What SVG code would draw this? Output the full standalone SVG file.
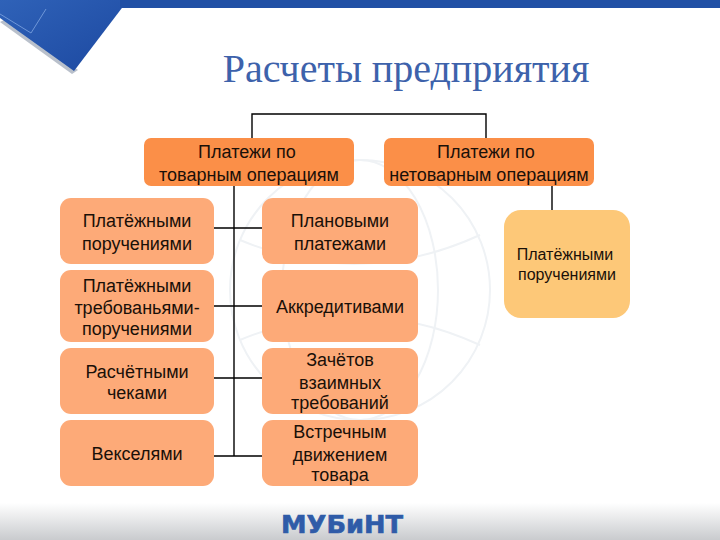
<svg xmlns="http://www.w3.org/2000/svg" width="720" height="540" viewBox="0 0 720 540">
<style>
text{font-family:"Liberation Sans",Arial,sans-serif;font-size:18px;fill:#1a1008;text-anchor:middle}
.c{fill:none;stroke:#000;stroke-width:1.4}
.g{fill:none;stroke:#eff2f5;stroke-width:2}
.h{fill:#fb8f48}
.s{fill:#fdaa78}
</style>
<defs>
<linearGradient id="foot" x1="0" y1="0" x2="0" y2="1"><stop offset="0" stop-color="#fff"/><stop offset="1" stop-color="#c9cbce"/></linearGradient>
<linearGradient id="blue" x1="0" y1="0" x2="1" y2="1"><stop offset="0" stop-color="#2f62b8"/><stop offset="1" stop-color="#1c48a0"/></linearGradient>
</defs>
<rect width="720" height="540" fill="#fff"/>
<rect y="503" width="720" height="37" fill="url(#foot)"/>
<g id="decor">
<polygon points="0,22 72,74 78,70 8,18" fill="#b9c0cb"/>
<polygon points="0,0 128,0 74,71 0,18" fill="url(#blue)"/>
<rect x="120" width="600" height="8" fill="#2150a5"/>
<path d="M0,14 L31,33 L46,9" fill="none" stroke="#6f97d8" stroke-width="1"/>
<ellipse class="g" cx="360" cy="290" rx="130" ry="130"/>
<ellipse class="g" cx="360" cy="290" rx="78" ry="130"/>
<path class="g" d="M240,240 Q360,290 480,235"/>
<path class="g" d="M240,340 Q360,290 480,345"/>
</g>
<text x="406" y="82" style="font-family:'Liberation Serif',serif;font-size:40px;fill:#3d62ab">Расчеты предприятия</text>
<g id="connectors">
<path class="c" d="M252,138V114H486V138"/>
<path class="c" d="M234,186V456"/>
<path class="c" d="M214,228H262M214,306H262M214,378H262M214,456H262"/>
<path class="c" d="M552,186V210"/>
</g>
<g id="n1"><rect class="h" x="144" y="138" width="210" height="48" rx="7"/><text x="247" y="158">Платежи по</text><text x="249" y="181">товарным операциям</text></g>
<g id="n2"><rect class="h" x="384" y="138" width="210" height="48" rx="7"/><text x="486" y="158">Платежи по</text><text x="489" y="181">нетоварным операциям</text></g>
<g id="n3"><rect class="s" x="60" y="198" width="154" height="66" rx="11"/><text x="137" y="227">Платёжными</text><text x="137" y="250">поручениями</text></g>
<g id="n4"><rect class="s" x="60" y="270" width="154" height="72" rx="11"/><text x="137" y="292">Платёжными</text><text x="137" y="314">требованьями-</text><text x="137" y="335">поручениями</text></g>
<g id="n5"><rect class="s" x="60" y="348" width="154" height="66" rx="11"/><text x="137" y="378">Расчётными</text><text x="137" y="399">чеками</text></g>
<g id="n6"><rect class="s" x="60" y="420" width="154" height="66" rx="11"/><text x="137" y="460">Векселями</text></g>
<g id="n7"><rect class="s" x="262" y="198" width="156" height="66" rx="11"/><text x="340" y="227">Плановыми</text><text x="340" y="250">платежами</text></g>
<g id="n8"><rect class="s" x="262" y="270" width="156" height="72" rx="11"/><text x="340" y="313">Аккредитивами</text></g>
<g id="n9"><rect class="s" x="262" y="348" width="156" height="66" rx="11"/><text x="340" y="366">Зачётов</text><text x="340" y="389">взаимных</text><text x="340" y="409">требований</text></g>
<g id="n10"><rect class="s" x="262" y="420" width="156" height="66" rx="11"/><text x="340" y="438">Встречным</text><text x="340" y="461">движением</text><text x="340" y="481">товара</text></g>
<g id="n11"><rect x="504" y="210" width="126" height="108" rx="17" fill="#fdc878"/><text x="565" y="260" style="font-size:16px">Платёжными</text><text x="567" y="280" style="font-size:16px">поручениями</text></g>
<text x="342" y="533" style="font-size:24px;font-weight:bold;fill:#2f5ba8;stroke:#2f5ba8;stroke-width:.6;font-family:'DejaVu Sans',sans-serif" textLength="122" lengthAdjust="spacingAndGlyphs">МУБиНТ</text>
</svg>
